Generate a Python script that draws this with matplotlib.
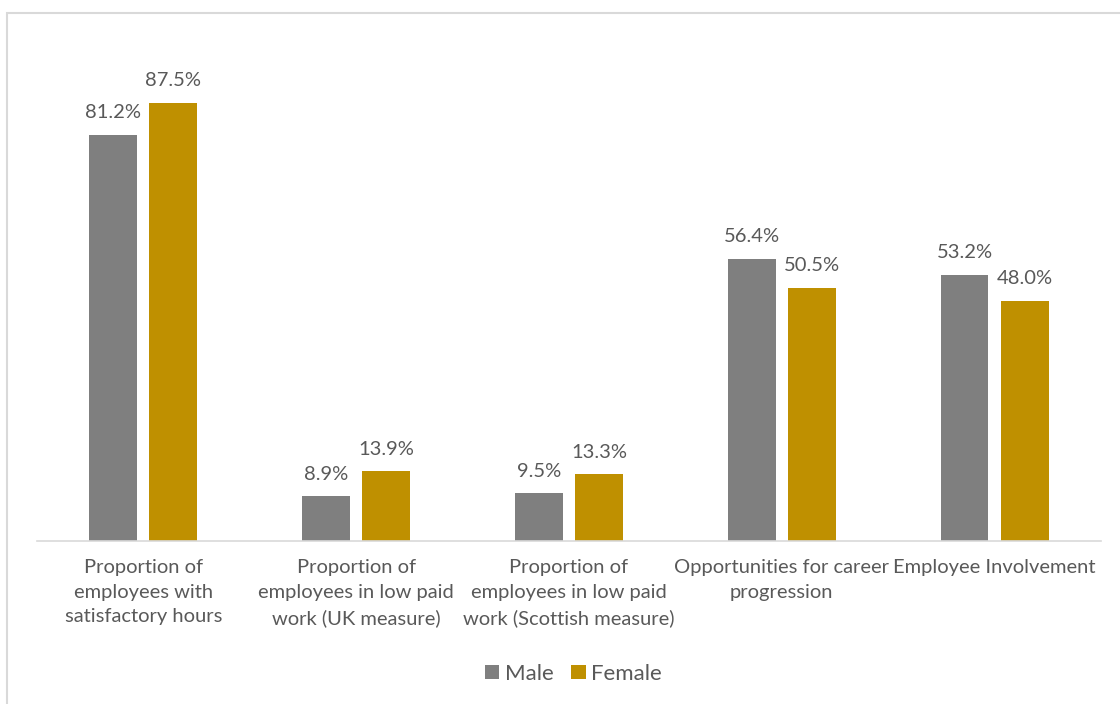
import matplotlib.pyplot as plt
import numpy as np
from matplotlib.patches import Rectangle

plt.rcParams['font.family'] = ['Lato', 'DejaVu Sans']

categories = [
    "Proportion of\nemployees with\nsatisfactory hours",
    "Proportion of\nemployees in low paid\nwork (UK measure)",
    "Proportion of\nemployees in low paid\nwork (Scottish measure)",
    "Opportunities for career\nprogression",
    "Employee Involvement",
]
male = [81.2, 8.9, 9.5, 56.4, 53.2]
female = [87.5, 13.9, 13.3, 50.5, 48.0]

grey = '#7f7f7f'
gold = '#bf9000'
text_col = '#595959'

fig = plt.figure(figsize=(11.2, 7.04), dpi=100)
ax = fig.add_axes([0.033, 0.2315, 0.950, 0.711])

x = np.arange(len(categories))
w = 0.225
off = 0.141
b1 = ax.bar(x - off, male, w, color=grey, label='Male')
b2 = ax.bar(x + off, female, w, color=gold, label='Female')

for bars, vals in [(b1, male), (b2, female)]:
    for rect, v in zip(bars, vals):
        ax.annotate(f"{v:.1f}%", (rect.get_x() + rect.get_width() / 2, v),
                    xytext=(0, 10), textcoords='offset points',
                    ha='center', va='bottom', fontsize=14.5, color=text_col)

ax.set_xlim(-0.5, len(categories) - 0.5)
ax.set_ylim(0, 100)
ax.set_yticks([])
ax.set_xticks(x)
ax.set_xticklabels(categories, fontsize=14.5, color=text_col, linespacing=1.55)
ax.tick_params(axis='x', length=0, pad=13)
for s in ['top', 'right', 'left']:
    ax.spines[s].set_visible(False)
ax.spines['bottom'].set_color('#d9d9d9')
ax.spines['bottom'].set_linewidth(1.2)

fig.legend(handles=[b1, b2], loc='center', bbox_to_anchor=(0.512, 0.043), ncol=2,
           frameon=False, fontsize=16, labelcolor=text_col,
           handlelength=0.65, handleheight=0.65, handletextpad=0.25, columnspacing=0.8)

# outer frame
fig.patches.append(Rectangle((7 / 1120, -0.1), 1.2, (704 - 13) / 704 + 0.1,
                             transform=fig.transFigure, fill=False,
                             edgecolor='#d9d9d9', linewidth=1.5))

fig.savefig('out.png', dpi=100)
